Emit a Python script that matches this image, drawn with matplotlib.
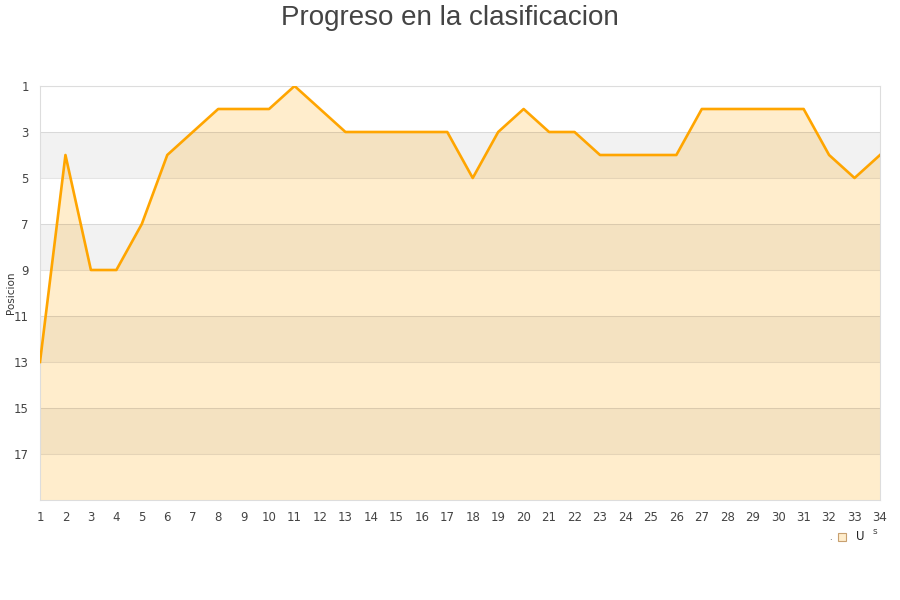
import matplotlib
matplotlib.use('Agg')
import matplotlib.pyplot as plt
from matplotlib.patches import Rectangle

jornadas = list(range(1, 35))
posiciones = [13, 4, 9, 9, 7, 4, 3, 2, 2, 2, 1, 2, 3, 3, 3, 3, 3, 5, 3, 2,
              3, 3, 4, 4, 4, 4, 2, 2, 2, 2, 2, 4, 5, 4]
y_ticks = [1, 3, 5, 7, 9, 11, 13, 15, 17]

fig = plt.figure(figsize=(9, 6), dpi=100)
ax = fig.add_axes([40/900, 100/600, 840/900, 414/600])

# alternating bands
for b in range(3, 19, 4):
    ax.axhspan(b, b + 2, color='#f2f2f2', zorder=0, lw=0)

ax.fill_between(jornadas, posiciones, 19, color='#ffa500', alpha=0.2, lw=0, zorder=1)
ax.plot(jornadas, posiciones, color='#ffa500', lw=1.9, zorder=3)

for t in y_ticks:
    ax.axhline(t, color='black', alpha=0.1, lw=0.8, zorder=2)

ax.set_xlim(1, 34)
ax.set_ylim(19, 1)
ax.set_xticks(jornadas)
ax.set_yticks(y_ticks)
ax.tick_params(length=0, labelsize=8.5, labelcolor='#444444', pad=8)
for s in ax.spines.values():
    s.set_color('#dddddd')
fig.text(11/900, 1 - 293/600, 'Posicion', rotation=90, ha='center', va='center',
         fontsize=7.5, color='#333333')

fig.text(0.5, 0.992, 'Progreso en la clasificacion', ha='center', va='top',
         fontsize=20, color='#444444', family='Liberation Sans')

# leftover legend marks
fig.add_artist(Rectangle((838/900, 1 - 541/600), 8/900, 8/600, transform=fig.transFigure,
                         facecolor='#ffedcc', edgecolor='#c8a070', lw=0.8))
fig.text(856/900, 1 - 537/600, 'U', fontsize=8.5, color='#222222', va='center')
fig.text(873/900, 1 - 532/600, 's', fontsize=6.5, color='#444444', va='center')
fig.text(829/900, 1 - 537/600, '.', fontsize=6, color='#444444', va='center')

fig.savefig('out.png', dpi=100)
